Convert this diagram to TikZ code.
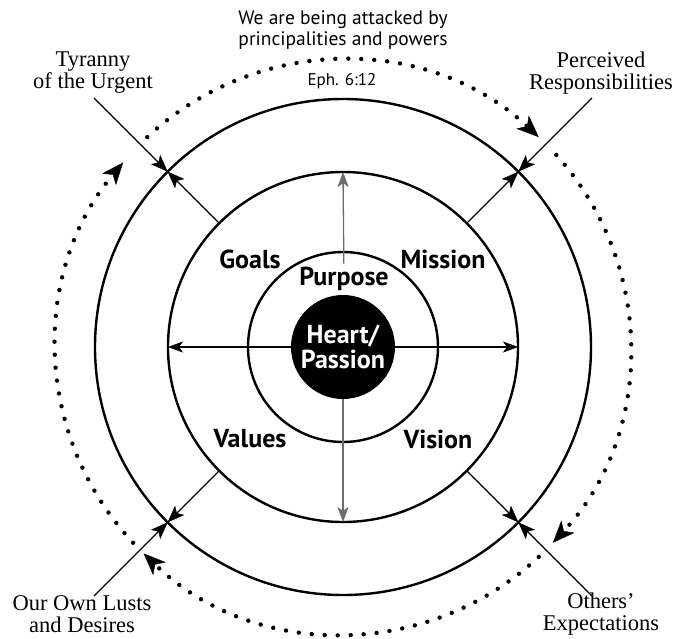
\documentclass[tikz,border=0pt]{standalone}
\usepackage{fontspec}
\setmainfont{Liberation Serif}
\newfontfamily\ringsans{PT Sans}
\usetikzlibrary{arrows.meta, calc}

\begin{document}
\begin{tikzpicture}[x=1pt, y=1pt,
    ring/.style={circle, draw, line width=2.4pt, inner sep=0pt, outer sep=0pt},
    outlabel/.style={align=center, font=\fontsize{22.5}{22}\selectfont},
    ringlabel/.style={font=\ringsans\bfseries\fontsize{26}{26}\selectfont},
    push/.style={line width=1.1pt, -{Stealth[length=17pt, width=13pt, inset=4pt, line width=0.4pt]}},
    axis/.style={line width=1.3pt, -{Stealth[length=15pt, width=11pt, inset=4pt, line width=0.4pt]}},
    attack/.style={line width=4.4pt, line cap=round, dash pattern=on 0pt off 13pt,
        -{Stealth[length=22pt, width=18pt, inset=6pt, line width=0.4pt]}}]
  \useasboundingbox (-343,-291) rectangle (332,347);

  \coordinate (C) at (0,0);
  \node[ring, minimum size=496pt] (outer) at (C) {};
  \node[ring, minimum size=350pt] (middle) at (C) {};
  \node[ring, minimum size=190pt] (inner) at (C) {};
  \node[circle, fill=black, minimum size=104pt, inner sep=0pt, text=white, align=center,
        font=\ringsans\bfseries\fontsize{26}{25}\selectfont] (heart) at (C) {Heart/\\Passion};

  % ring texts
  \node[ringlabel] (purpose) at (1,68) {Purpose};
  \node[ringlabel] (goals) at (-93,88) {Goals};
  \node[ringlabel] (mission) at (100,88) {Mission};
  \node[ringlabel] (values) at (-93,-92) {Values};
  \node[ringlabel] (vision) at (95,-92) {Vision};

  \draw[axis, gray!85!black] (purpose) -- (middle.north);
  \draw[axis, gray!85!black] (heart) -- (middle.south);
  \draw[axis] (heart) -- (middle.west);
  \draw[axis] (heart) -- (middle.east);

  \foreach \a in {45,135,225,315}
    \draw[push] (middle.\a) -- (outer.\a);

  % outside pressures
  \node[outlabel] (tyranny) at (-250,274) {Tyranny\\of the Urgent};
  \node[outlabel] (perceived) at (258,274) {Perceived\\Responsibilities};
  \node[outlabel] (lusts) at (-261,-267) {Our Own Lusts\\and Desires};
  \node[outlabel] (others) at (258,-267) {Others’\\Expectations};

  \coordinate (tyrstart) at (135:352);
  \coordinate (perstart) at (45:352);
  \coordinate (luststart) at (225:352);
  \coordinate (othstart) at (315:352);
  \draw[push] (tyrstart) -- (outer.135);
  \draw[push] (perstart) -- (outer.45);
  \draw[push] (luststart) -- (outer.225);
  \draw[push] (othstart) -- (outer.315);

  % attack circle
  \draw[attack] (133:287) arc[start angle=133, end angle=47, radius=287];
  \draw[attack] (42:287) arc[start angle=42, end angle=-43, radius=287];
  \draw[attack] (-47:287) arc[start angle=-47, end angle=-134, radius=287];
  \draw[attack] (-137:287) arc[start angle=-137, end angle=-220, radius=287];

  \node[align=center, font=\ringsans\fontsize{19.5}{21}\selectfont] (attacked) at (0,317)
    {We are being attacked by\\principalities and powers};
  \node[font=\ringsans\fontsize{17}{16}\selectfont] (eph) at (-1,266) {Eph. 6:12};
\end{tikzpicture}
\end{document}
